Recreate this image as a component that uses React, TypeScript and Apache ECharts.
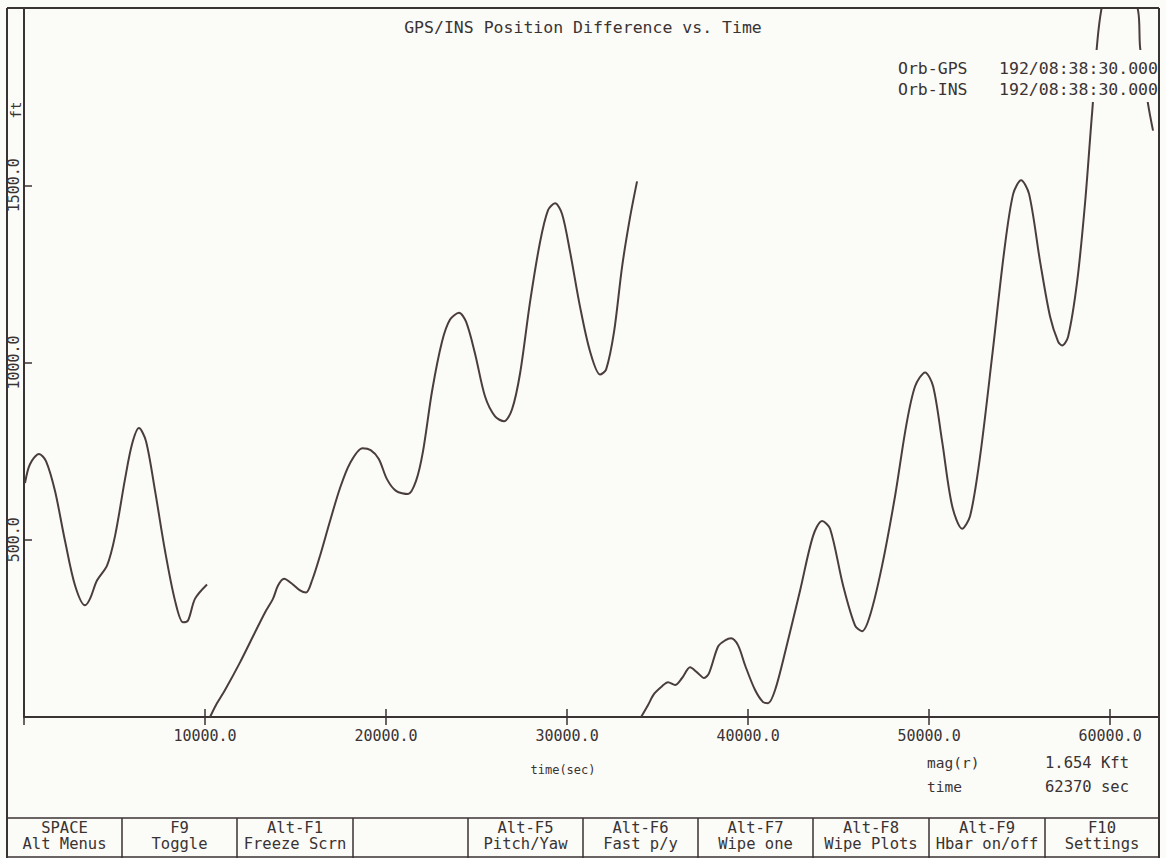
import React, { useEffect, useRef } from "react";
import * as echarts from "echarts";

// ---- data ----
const xTickValues = [10000, 20000, 30000, 40000, 50000, 60000];
const yTickValues = [500, 1000, 1500];

// [time (sec), position difference (ft)]
const segment1: [number, number][] = [
  [55, 660], [330, 713], [830, 742], [1215, 722], [1710, 638], [2265, 497],
  [2820, 371], [3370, 315], [3650, 334], [4030, 385], [4585, 427], [5030, 511],
  [5580, 671], [5970, 770], [6350, 815], [6740, 778], [7240, 638], [7790, 469],
  [8340, 329], [8785, 267], [9060, 272], [9450, 334], [10110, 374],
];

const segment2: [number, number][] = [
  [10276, 0], [10608, 34], [11105, 76], [11934, 154], [12762, 239], [13315, 295],
  [13757, 334], [14033, 371], [14365, 390], [14807, 376], [15249, 357], [15580, 351],
  [15912, 385], [16354, 455], [16906, 553], [17459, 646], [18011, 716], [18700, 758],
  [19150, 753], [19600, 728], [20050, 671], [20550, 638], [21215, 629], [21657, 666],
  [22044, 750], [22541, 919], [23094, 1059], [23536, 1121], [24033, 1140], [24420, 1115],
  [24917, 1025], [25470, 904], [26022, 848], [26519, 834], [26961, 868], [27403, 969],
  [27956, 1171], [28508, 1340], [28950, 1430], [29337, 1449], [29724, 1419], [30166, 1312],
  [30718, 1157], [31271, 1031], [31823, 966], [32155, 980], [32597, 1087], [33039, 1270],
  [33481, 1410], [33867, 1511],
];

const segment3: [number, number][] = [
  [34090, 0], [34475, 34], [34807, 65], [35249, 87], [35580, 98], [35967, 90],
  [36354, 110], [36796, 140], [37182, 126], [37569, 110], [37845, 124], [38343, 199],
  [38729, 216], [39061, 222], [39448, 202], [39834, 146], [40387, 76], [40829, 42],
  [41105, 39], [41492, 76], [42099, 194], [42873, 357], [43591, 511], [44088, 553],
  [44530, 531], [45249, 371], [45912, 258], [46298, 242], [46740, 287], [47403, 427],
  [48122, 624], [48729, 820], [49227, 933], [49779, 972], [50221, 933], [50718, 778],
  [51271, 596], [51823, 531], [52265, 567], [52818, 736], [53481, 1017], [54144, 1312],
  [54641, 1475], [55083, 1514], [55525, 1475], [56133, 1284], [56685, 1129], [57127, 1059],
  [57348, 1048], [57680, 1073], [58177, 1228], [58619, 1452], [59006, 1705], [59503, 1992],
  [60500, 2140], [61547, 1992], [61657, 1888], [62099, 1728], [62370, 1654],
];

const titleText = "GPS/INS Position Difference vs. Time";
const legendNames = ["Orb-GPS", "Orb-INS"];
const legendTimes = ["192/08:38:30.000", "192/08:38:30.000"];
const xAxisName = "time(sec)";
const yAxisUnit = "ft";
const readoutLabels = ["mag(r)", "time"];
const readoutValues = ["1.654 Kft", "62370 sec"];
const keyTop = ["SPACE", "F9", "Alt-F1", "", "Alt-F5", "Alt-F6", "Alt-F7", "Alt-F8", "Alt-F9", "F10"];
const keyBottom = ["Alt Menus", "Toggle", "Freeze Scrn", "", "Pitch/Yaw", "Fast p/y", "Wipe one", "Wipe Plots", "Hbar on/off", "Settings"];

// ---- styling ----
const FONT = "'DejaVu Sans Mono', 'Liberation Mono', monospace";
const INK = "#3a3333";
const LINE = "#4a3d3d";
const BG = "#fbfbf7";

const keyEdges = [7, 122, 237, 353, 468, 583, 698, 813, 929, 1045, 1159];

export default function App() {
  const ref = useRef<HTMLDivElement>(null);

  useEffect(() => {
    document.body.style.margin = "0";
    const chart = echarts.init(ref.current!, undefined, { renderer: "svg" });

    const txt = (
      x: number, y: number, text: string, size: number,
      align: string = "center", extra: any = {}
    ) => ({
      type: "text",
      x, y, z: 120,
      ...extra,
      style: {
        text,
        fill: INK,
        font: `${size}px ${FONT}`,
        textAlign: align,
        align,
        textVerticalAlign: "middle",
        verticalAlign: "middle",
      },
    });

    const ln = (x1: number, y1: number, x2: number, y2: number, w = 2) => ({
      type: "line",
      z: 110,
      shape: { x1, y1, x2, y2 },
      style: { stroke: INK, lineWidth: w },
    });

    const graphics: any[] = [
      // legend background box (hides the curve behind it)
      {
        type: "rect",
        z: 105,
        shape: { x: 888, y: 50, width: 268, height: 52 },
        style: { fill: BG, stroke: null },
      },
      // frame
      ln(7, 8, 1159, 8),
      ln(7, 8, 7, 858),
      ln(1159, 8, 1159, 858),
      ln(7, 818, 1159, 818, 1.5),
      ln(7, 857, 1159, 857, 1.5),
      txt(583, 27, titleText, 16.5),
      txt(898, 68, legendNames[0], 16.5, "left"),
      txt(898, 89, legendNames[1], 16.5, "left"),
      txt(1158, 68, legendTimes[0], 16.5, "right"),
      txt(1158, 89, legendTimes[1], 16.5, "right"),
      txt(16, 110, yAxisUnit, 14, "center", { rotation: Math.PI / 2 }),
      txt(563, 770, xAxisName, 12),
      txt(927, 763, readoutLabels[0], 14.5, "left"),
      txt(927, 787, readoutLabels[1], 14.5, "left"),
      txt(1045, 763, readoutValues[0], 15.5, "left"),
      txt(1045, 787, readoutValues[1], 15.5, "left"),
    ];

    for (let i = 1; i < keyEdges.length - 1; i++) {
      graphics.push(ln(keyEdges[i], 818, keyEdges[i], 858, 1.5));
    }
    for (let i = 0; i < keyTop.length; i++) {
      const cx = (keyEdges[i] + keyEdges[i + 1]) / 2;
      if (keyTop[i]) graphics.push(txt(cx, 828, keyTop[i], 15.5));
      if (keyBottom[i]) graphics.push(txt(cx, 844, keyBottom[i], 15.5));
    }

    const xLabel = (v: number) =>
      xTickValues.indexOf(v) >= 0 ? v.toFixed(1) : "";
    const yLabel = (v: number) =>
      yTickValues.indexOf(v) >= 0 ? v.toFixed(1) : "";

    const baseX = {
      type: "value",
      min: 0,
      max: 62700,
      interval: 10000,
      position: "bottom",
      splitLine: { show: false },
    };

    const lineSeries = (name: string, data: [number, number][]) => ({
      name,
      type: "line",
      data,
      xAxisIndex: 0,
      yAxisIndex: 0,
      showSymbol: false,
      symbol: "none",
      smooth: 0.3,
      clip: true,
      lineStyle: { color: LINE, width: 2 },
      z: 2,
    });

    chart.setOption({
      animation: false,
      backgroundColor: BG,
      grid: { left: 24, top: 8, right: 7, bottom: 141, containLabel: false },
      xAxis: [
        {
          ...baseX,
          axisLine: { show: true, lineStyle: { color: INK, width: 2 } },
          axisTick: { show: true, inside: true, length: 8, lineStyle: { color: INK, width: 1.5 } },
          axisLabel: {
            show: true,
            formatter: xLabel,
            margin: 11,
            color: INK,
            fontFamily: FONT,
            fontSize: 15,
            showMaxLabel: false,
          },
        },
        {
          ...baseX,
          axisLine: { show: false },
          axisTick: { show: true, inside: false, length: 8, lineStyle: { color: INK, width: 1.5 } },
          axisLabel: { show: false },
        },
      ],
      yAxis: {
        type: "value",
        min: 0,
        max: 2000,
        interval: 500,
        splitLine: { show: false },
        axisLine: { show: true, lineStyle: { color: INK, width: 2 } },
        axisTick: { show: true, inside: true, length: 8, lineStyle: { color: INK, width: 1.5 } },
        axisLabel: {
          formatter: yLabel,
          rotate: 90,
          margin: 3,
          color: INK,
          fontFamily: FONT,
          fontSize: 15,
        },
      },
      series: [
        lineSeries("Orb-GPS 1", segment1),
        lineSeries("Orb-GPS 2", segment2),
        lineSeries("Orb-GPS 3", segment3),
      ],
      graphic: { z: 100, elements: graphics },
    });

    return () => chart.dispose();
  }, []);

  return (
    <div
      ref={ref}
      style={{ position: "fixed", left: 0, top: 0, width: 1166, height: 858 }}
    />
  );
}
